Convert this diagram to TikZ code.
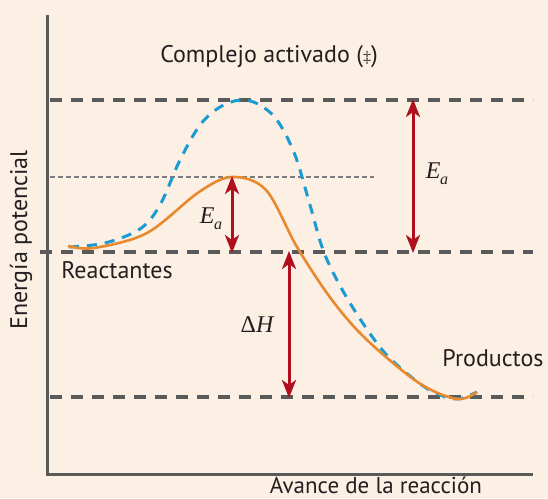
\documentclass[tikz,border=0pt]{standalone}
\usepackage{fontspec}
\setmainfont{PT Sans}
\newfontfamily\seriffam{Liberation Serif}
\usetikzlibrary{arrows.meta}
\definecolor{bg}{HTML}{FCEFE4}
\definecolor{grayline}{HTML}{5A5A5A}
\definecolor{orangec}{HTML}{E8892F}
\definecolor{bluec}{HTML}{1B9BD1}
\definecolor{redc}{HTML}{B0101E}
\definecolor{txt}{HTML}{231F20}
\tikzset{
  axisline/.style={draw=grayline, line width=3pt},
  levelline/.style={draw=grayline, line width=3.2pt, dash pattern=on 12pt off 9pt},
  thinlevel/.style={draw=grayline!80, line width=1.2pt, dash pattern=on 4.5pt off 3.5pt},
  catcurve/.style={draw=orangec, line width=2.6pt},
  uncatcurve/.style={draw=bluec, line width=3pt, dash pattern=on 10pt off 8pt},
  energyarrow/.style={draw=redc, line width=3pt, {Stealth[length=18pt,width=14pt,inset=5pt]}-{Stealth[length=18pt,width=14pt,inset=5pt]}, shorten <=-1pt, shorten >=-1pt},
  lbl/.style={text=txt, font=\fontsize{24}{26}\selectfont, inner sep=0pt},
  mathlbl/.style={text=txt, font=\fontsize{24}{26}\selectfont\seriffam, inner sep=0pt}
}
\begin{document}
\begin{tikzpicture}[x=1pt,y=-1pt]
\useasboundingbox[fill=bg] (0,0) rectangle (548,498);
% axes
\coordinate (ytop) at (47,15);
\coordinate (origin) at (47,474);
\coordinate (xend) at (533,474);
\draw[axisline] (ytop) -- (origin) -- (xend);
% level lines
\coordinate (topL) at (50,100);  \coordinate (topR) at (533,100);
\coordinate (midL) at (50,177);  \coordinate (midR) at (374,177);
\coordinate (reaL) at (40,252);  \coordinate (reaR) at (533,252);
\coordinate (proL) at (50,397);  \coordinate (proR) at (533,397);
\draw[levelline] (topL) -- (topR);
\draw[thinlevel] (midL) -- (midR);
\draw[levelline] (reaL) -- (reaR);
\draw[levelline] (proL) -- (proR);
% uncatalysed curve
\draw[uncatcurve] plot[smooth, tension=0.55] coordinates {(69,247) (105,243) (140,229) (160,205) (180,160) (200,125) (220,107) (240,100) (258,104) (277,120) (295,155) (310,205) (325,255) (350,303) (384,352) (419,383) (440,395) (458,399) (477,392)};
% catalysed curve
\draw[catcurve] plot[smooth, tension=0.55] coordinates {(68,246) (94,248) (147,233) (199,192) (232,177) (266,190) (297,247) (332,300) (367,340) (419,383) (457,399) (477,392)};
% arrows
\coordinate (pk) at (232,177);
\coordinate (pkb) at (232,252);
\coordinate (tsA) at (413,100);
\coordinate (tsB) at (413,252);
\coordinate (dhA) at (289,252);
\coordinate (dhB) at (289,397);
\draw[energyarrow] (pk) -- (pkb);
\draw[energyarrow] (tsA) -- (tsB);
\draw[energyarrow] (dhA) -- (dhB);
% labels
\node[lbl] (complejo) at (269,57) {Complejo activado ({\fontsize{16}{16}\selectfont\seriffam ‡})};
\node[lbl] (reac) at (117,270) {Reactantes};
\node[lbl] (prod) at (493,358) {Productos};
\node[lbl, rotate=90] (energia) at (21,240) {Energía potencial};
\node[lbl, anchor=base, font=\fontsize{23}{25}\selectfont] (avance) at (376,493) {Avance de la reacción};
\node[mathlbl] (ea1) at (211,219) {\itshape E\kern-0.5pt\raisebox{-6pt}{\fontsize{16}{16}\selectfont a}};
\node[mathlbl] (ea2) at (437,174) {\itshape E\kern-0.5pt\raisebox{-6pt}{\fontsize{16}{16}\selectfont a}};
\node[mathlbl] (dh) at (257,325) {Δ\itshape H};
\end{tikzpicture}
\end{document}
